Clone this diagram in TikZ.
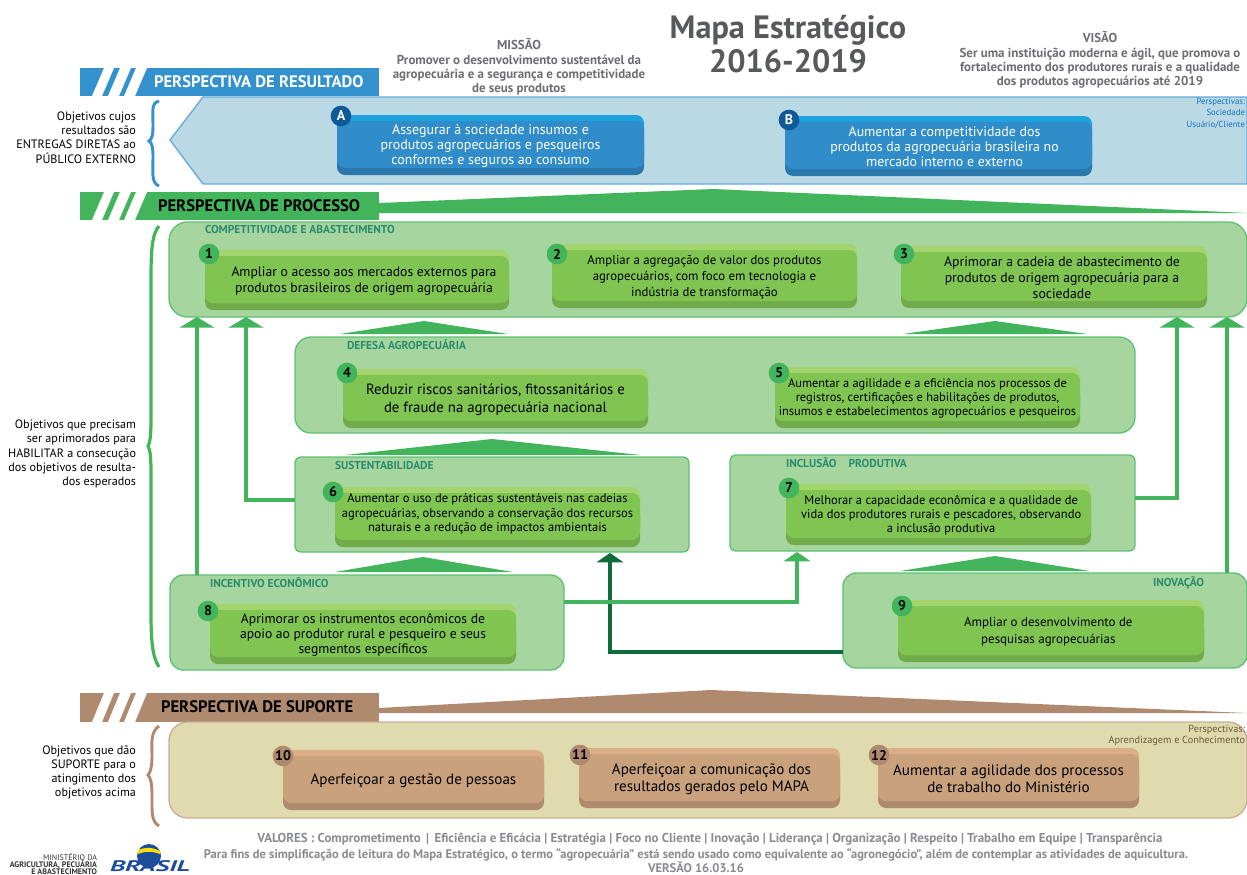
\documentclass[tikz,border=0pt]{standalone}
\usepackage{fontspec}
\setmainfont{PT Sans}
\usetikzlibrary{arrows.meta,calc}
\definecolor{bluehd}{HTML}{3391CD}
\definecolor{bluepanel}{HTML}{BBD8E5}
\definecolor{blueline}{HTML}{66ABDC}
\definecolor{bluetop}{HTML}{1EA2DD}
\definecolor{bluemain}{HTML}{318DC9}
\definecolor{bluebot}{HTML}{2A78AE}
\definecolor{bluebadge}{HTML}{0F5A96}
\definecolor{bluenote}{HTML}{1173BC}
\definecolor{greenhd}{HTML}{41B45C}
\definecolor{greenpanel}{HTML}{A6D5A0}
\definecolor{greenline}{HTML}{5CC172}
\definecolor{greentop}{HTML}{A3D46E}
\definecolor{greenmain}{HTML}{80C552}
\definecolor{greenbot}{HTML}{72AB4A}
\definecolor{darkarrow}{HTML}{0E6B3C}
\definecolor{teal}{HTML}{2A8C6C}
\definecolor{brownhd}{HTML}{B08A6E}
\definecolor{sandpanel}{HTML}{E0DBAE}
\definecolor{browntop}{HTML}{DBAE88}
\definecolor{brownmain}{HTML}{C9A27D}
\definecolor{brownbot}{HTML}{B08A6E}
\definecolor{brownnote}{HTML}{6B5A3A}
\definecolor{greytxt}{HTML}{6D6E71}
\definecolor{greytitle}{HTML}{58595B}
\definecolor{logoblue}{HTML}{1D4E9E}
\tikzset{
  x=0.75pt,y=-0.75pt,
  every node/.style={inner sep=0pt,outer sep=0pt,align=center},
  panelg/.style={draw=greenline,fill=greenpanel,line width=1pt},
  panels/.style={draw=brownhd!70,fill=sandpanel,line width=1pt},
  fs/.style 2 args={font=\fontsize{#1}{#2}\selectfont},
  sidetxt/.style={font=\fontsize{9.1}{10.7}\selectfont,align=right,anchor=east,text=black},
  hdtxt/.style={font=\fontsize{12.5}{14}\selectfont\bfseries,anchor=west},
  grouptxt/.style={font=\fontsize{8.6}{10}\selectfont\bfseries,text=teal,anchor=west},
  greytop/.style={font=\fontsize{9.7}{10.7}\selectfont\bfseries,text=greytxt},
  badge/.style={circle,minimum size=15.5pt,font=\fontsize{10.5}{11}\selectfont\bfseries},
  arrowg/.style={draw=greenhd,line width=3pt,-{Triangle[width=26pt,length=8pt]}},
  arrowgs/.style={draw=greenhd,line width=2.6pt,-{Triangle[width=20pt,length=7pt]}},
  arrowd/.style={draw=darkarrow,line width=2.6pt,-{Triangle[width=20pt,length=7pt]}},
}
% name, x1,y1,x2,y2, radius, style
\newcommand\panelbox[7]{%
  \node[#7,rounded corners=#6,minimum width={(#4-#2)*0.75pt},minimum height={(#5-#3)*0.75pt}] (#1) at ({(#2+#4)/2},{(#3+#5)/2}) {};}
% name, x1,y1,x2,y2, palette prefix, text style, text
\newcommand\objbox[8]{%
  \fill[#6top,rounded corners=6] (#2,#3) rectangle (#4,#5-12);
  \fill[#6bot,rounded corners=6] (#2,#3+20) rectangle (#4,#5);
  \fill[#6main,rounded corners=6] (#2,#3+6) rectangle (#4,#5-7);
  \node[#7] (#1) at ({(#2+#4)/2},{(#3+#5)/2+1}) {#8};}
\newcommand\stripes[2]{%
  \fill[white] (92,#2) -- (102,#2) -- (114,#1) -- (104,#1) -- cycle;
  \fill[white] (108,#2) -- (119,#2) -- (131,#1) -- (120,#1) -- cycle;
  \fill[white] (124,#2) -- (135,#2) -- (147,#1) -- (136,#1) -- cycle;}
\begin{document}
\begin{tikzpicture}
\useasboundingbox (0,0) rectangle (1247,875);
\clip (0,0) rectangle (1247,875);
% Title and statements
\node[font=\fontsize{24.2}{25.5}\selectfont\bfseries,text=greytitle] (title) at (788,44) {Mapa Estratégico\\2016-2019};
\node[greytop] (missao) at (519,67) {MISSÃO\\Promover o desenvolvimento sustentável da\\agropecuária e a segurança e competitividade\\de seus produtos};
\node[greytop] (visao) at (1100,60) {VISÃO\\Ser uma instituição moderna e ágil, que promova o\\fortalecimento dos produtores rurais e a qualidade\\dos produtos agropecuários até 2019};
% Result
\node[fill=bluehd,minimum width=224.25pt,minimum height=21pt] (hdres) at (229.5,82) {};
\stripes{68}{96}
\node[hdtxt,text=white] (hdrestxt) at (154,82) {PERSPECTIVA DE RESULTADO};
\fill[bluepanel,draw=blueline,line width=1pt] (170,140) -- (203,97) -- (1247,97) -- (1247,184) -- (203,184) -- cycle;
\node[font=\fontsize{6.6}{8.8}\selectfont,align=right,anchor=north east,text=bluenote] (persp1) at (1245,98) {Perspectivas:\\Sociedade\\Usuário/Cliente};
\objbox{objA}{337}{115}{644}{175}{blue}{fs={10.5}{11.3},text=white}{Assegurar à sociedade insumos e\\produtos agropecuários e pesqueiros\\conformes e seguros ao consumo}
\node[badge,fill=bluebadge,text=white] (bA) at (341,116) {A};
\objbox{objB}{785}{116}{1092}{176}{blue}{fs={10.4}{11.3},text=white,xshift=4.5pt}{Aumentar a competitividade dos\\produtos da agropecuária brasileira no\\mercado interno e externo}
\node[badge,fill=bluebadge,text=white] (bB) at (789,120) {B};
\node[sidetxt] (sideres) at (136,137.5) {Objetivos cujos\\resultados são\\ENTREGAS DIRETAS ao\\PÚBLICO EXTERNO};
\draw[bluehd,line width=2.2pt] (159,101) .. controls (151,103) and (153,112) .. (153,125) .. controls (153,135) and (152,139) .. (149,141) .. controls (152,143) and (153,147) .. (153,157) .. controls (153,172) and (151,183) .. (159,186);
% Process
\node[fill=greenhd,minimum width=224.25pt,minimum height=21pt] (hdpro) at (229.5,206) {};
\stripes{192}{220}
\node[hdtxt,text=black] (hdprotxt) at (158,206) {PERSPECTIVA DE PROCESSO};
\fill[greenhd] (379,203) -- (713,189) -- (1247,213) -- (379,213) -- cycle;
\node[sidetxt] (sidepro) at (136,454) {Objetivos que precisam\\ser aprimorados para\\HABILITAR a consecução\\dos objetivos de resulta-\\dos esperados};
\draw[greenhd,line width=2.4pt] (159,226) .. controls (152,234) and (151,250) .. (151,280) -- (151,420) .. controls (151,435) and (150,443) .. (148,446) .. controls (150,449) and (151,457) .. (151,472) -- (151,610) .. controls (151,640) and (152,656) .. (159,667);
% Green groups
\panelbox{comp}{169}{222}{1247}{317}{14}{panelg}
\panelbox{defesa}{295}{337}{1135}{433}{12}{panelg}
\panelbox{sust}{295}{457}{689}{552}{4}{panelg}
\panelbox{incl}{730}{455}{1135}{551}{4}{panelg}
\panelbox{incent}{170}{575}{564}{670}{10}{panelg}
\panelbox{inov}{843}{573}{1247}{668}{10}{panelg}
% Coordinates that set the arrow columns and rows
\coordinate (colA) at (197,500);
\coordinate (colB) at (246,500);
\coordinate (colC) at (1177,498);
\coordinate (colD) at (1227,498);
\coordinate (colE) at (610,652);
\coordinate (colF) at (797,602);
% Connectors
\draw[arrowg] (colA |- incent.north) -- (colA |- comp.south);
\draw[arrowg] (sust.west |- colB) -- (colB) -- (colB |- comp.south);
\draw[arrowg] (incl.east |- colC) -- (colC) -- (colC |- comp.south);
\draw[arrowg] (colD |- inov.north) -- (colD |- comp.south);
\draw[arrowd] (inov.west |- colE) -- (colE) -- ([yshift=-0.75pt]colE |- sust.south);
\draw[arrowgs] (incent.east |- colF) -- (colF) -- ([yshift=-0.75pt]colF |- incl.south);
% Triangles
\fill[greenhd] (340,334) -- (424,321) -- (508,334) -- cycle;
\fill[greenhd] (903,334) -- (995,321) -- (1087,334) -- cycle;
\fill[greenhd] (345,455) -- (492,439) -- (640,455) -- cycle;
\fill[greenhd] (335,572) -- (423,557) -- (513,572) -- cycle;
\fill[greenhd] (900,571) -- (995,556) -- (1090,571) -- cycle;
% Group labels
\node[grouptxt] (g1) at (205,229) {COMPETITIVIDADE E ABASTECIMENTO};
\node[grouptxt] (g2) at (347,345) {DEFESA AGROPECUÁRIA};
\node[grouptxt] (g3) at (335,465) {SUSTENTABILIDADE};
\node[grouptxt] (g4) at (786,463) {INCLUSÃO\hspace{9pt}PRODUTIVA};
\node[grouptxt] (g5) at (210,583) {INCENTIVO ECONÔMICO};
\node[grouptxt,anchor=east] (g6) at (1204,583) {INOVAÇÃO};
% Objectives
\objbox{obj1}{205}{250}{509}{310}{green}{fs={10.25}{12.2},xshift=5.25pt}{Ampliar o acesso aos mercados externos para\\produtos brasileiros de origem agropecuária}
\objbox{obj2}{552}{244}{857}{308}{green}{fs={9.6}{12}}{Ampliar a agregação de valor dos produtos\\agropecuários, com foco em tecnologia e\\indústria de transformação}
\objbox{obj3}{901}{246}{1207}{308}{green}{fs={10.3}{12},xshift=6pt}{Aprimorar a cadeia de abastecimento de\\produtos de origem agropecuária para a\\sociedade}
\objbox{obj4}{343}{369}{648}{428}{green}{fs={11.1}{13.5}}{Reduzir riscos sanitários, fitossanitários e\\de fraude na agropecuária nacional}
\objbox{obj5}{775}{367}{1080}{428}{green}{fs={9.3}{10.6}}{Aumentar a agilidade e a eficiência nos processos de\\registros, certificações e habilitações de produtos,\\insumos e estabelecimentos agropecuários e pesqueiros}
\objbox{obj6}{335}{487}{640}{547}{green}{fs={9.4}{10.8},yshift=3pt}{Aumentar o uso de práticas sustentáveis nas cadeias\\agropecuárias, observando a conservação dos recursos\\naturais e a redução de impactos ambientais}
\objbox{obj7}{786}{484}{1091}{545}{green}{fs={9.4}{10.6},xshift=2pt}{Melhorar a capacidade econômica e a qualidade de\\vida dos produtores rurais e pescadores, observando\\a inclusão produtiva}
\objbox{obj8}{210}{604}{516}{664}{green}{fs={10.2}{11.4}}{Aprimorar os instrumentos econômicos de\\apoio ao produtor rural e pesqueiro e seus\\segmentos específicos}
\objbox{obj9}{898}{600}{1204}{662}{green}{fs={9.7}{12.8},xshift=-2pt}{Ampliar o desenvolvimento de\\pesquisas agropecuárias}
\foreach \n/\px/\py in {1/209/254,2/557/254,3/904/254,4/347/373,5/779/373,6/333/492,7/789/488,8/208/611,9/902/606}{
  \node[badge,fill=greenhd,text=black] (b\n) at (\px,\py) {\n};
}
% Support
\node[fill=brownhd,minimum width=224.25pt,minimum height=21.5pt] (hdsup) at (229.5,707.5) {};
\stripes{693}{722}
\node[hdtxt,text=black] (hdsuptxt) at (161,707) {PERSPECTIVA DE SUPORTE};
\fill[brownhd] (379,708) -- (711,690) -- (1247,713) -- (379,713) -- cycle;
\node[sidetxt] (sidesup) at (136,772.5) {Objetivos que dão\\SUPORTE para o\\atingimento dos\\objetivos acima};
\draw[brownhd,line width=2.2pt] (159,726) .. controls (150,732) and (152,745) .. (152,755) .. controls (152,765) and (151,772) .. (148,775) .. controls (151,778) and (152,785) .. (152,795) .. controls (152,812) and (151,821) .. (159,826);
\panelbox{supp}{169}{722}{1247}{818}{14}{panels}
\node[font=\fontsize{7.7}{8.4}\selectfont,align=right,anchor=north east,text=brownnote] (persp2) at (1245,725) {Perspectivas:\\Aprendizagem e Conhecimento};
\objbox{obj10}{283}{750}{544}{810}{brown}{fs={11.3}{12.8}}{Aperfeiçoar a gestão de pessoas}
\objbox{obj11}{579}{748}{840}{808}{brown}{fs={11.3}{12.8},xshift=1.5pt}{Aperfeiçoar a comunicação dos\\resultados gerados pelo MAPA}
\objbox{obj12}{878}{748}{1139}{808}{brown}{fs={11.3}{12.8}}{Aumentar a agilidade dos processos\\de trabalho do Ministério}
\foreach \n/\px/\py in {10/283/756,11/580/755,12/879/755}{
  \node[badge,fill=brownhd,text=black] (b\n) at (\px,\py) {\n};
}
% Footer
\node[font=\fontsize{9.7}{11}\selectfont\bfseries,text=greytxt!80] (valores) at (710,839) {VALORES : Comprometimento \,|\, Eficiência e Eficácia | Estratégia | Foco no Cliente | Inovação | Liderança | Organização | Respeito | Trabalho em Equipe | Transparência};
\node[font=\fontsize{9.4}{9}\selectfont\bfseries,text=greytxt!80] (nota) at (696,860.5) {Para fins de simplificação de leitura do Mapa Estratégico, o termo “agropecuária” está sendo usado como equivalente ao “agronegócio”, além de contemplar as atividades de aquicultura.\\VERSÃO 16.03.16};
\node[font=\fontsize{6}{5.3}\selectfont,align=right,anchor=north east,text=black!80] (mapa) at (97,853.5) {MINISTÉRIO DA\\\textbf{AGRICULTURA, PECUÁRIA}\\\textbf{E ABASTECIMENTO}};
\fill[logoblue] (149,856) circle (12);
\fill[yellow!80!orange] (138,850) .. controls (145,847) and (152,847) .. (160,851) -- (160,854) .. controls (152,851) and (145,851) .. (138,854) -- cycle;
\node[text=logoblue] (brasil) at (150,866) {\scalebox{1.75}[1]{\fontsize{11.5}{12}\selectfont\bfseries\itshape BRASIL}};
\end{tikzpicture}
\end{document}
